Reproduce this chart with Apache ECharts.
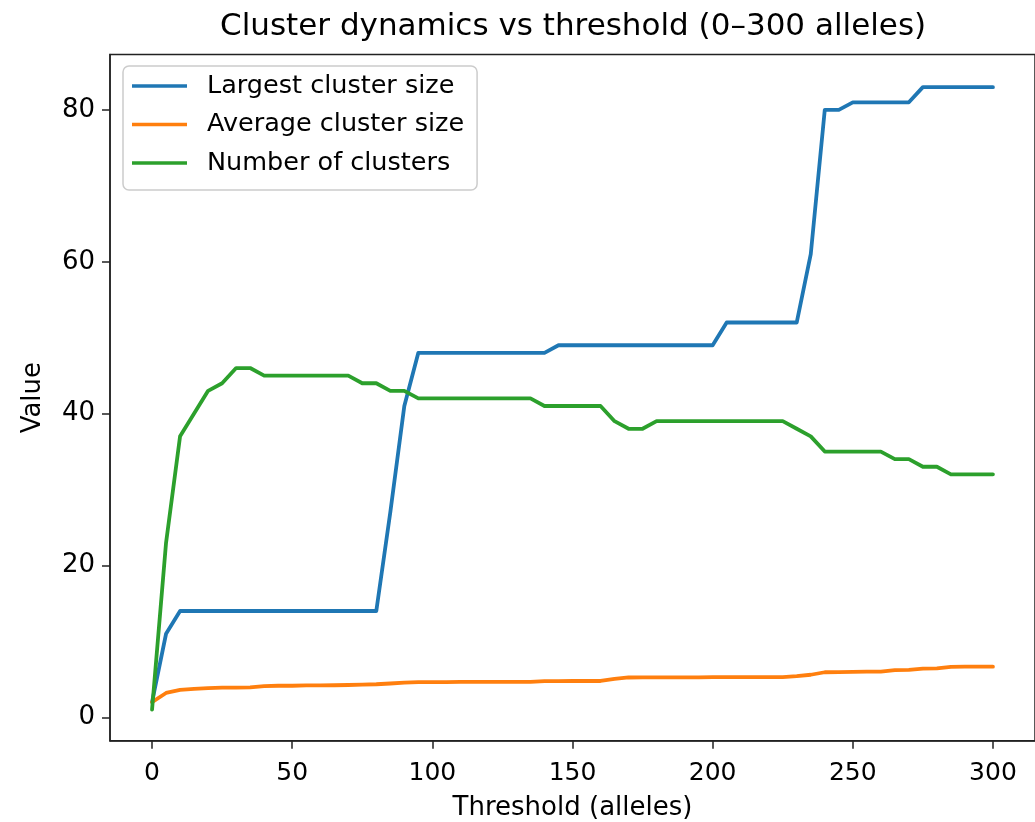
<!DOCTYPE html>
<html>
<head>
<meta charset="utf-8">
<script src="https://cdn.jsdelivr.net/npm/echarts@6/dist/echarts.min.js"></script>
<style>
  html, body { margin: 0; padding: 0; background: #fff; }
  #chart { width: 1035px; height: 822px; }
</style>
</head>
<body>
<div id="chart"></div>
<script>
// Thresholds (alleles), step 5 from 0 to 300
const thresholds = [0,5,10,15,20,25,30,35,40,45,50,55,60,65,70,75,80,85,90,95,100,105,110,115,120,125,130,135,140,145,150,155,160,165,170,175,180,185,190,195,200,205,210,215,220,225,230,235,240,245,250,255,260,265,270,275,280,285,290,295,300];

const largestCluster = [2,11,14,14,14,14,14,14,14,14,14,14,14,14,14,14,14,27,41,48,48,48,48,48,48,48,48,48,48,49,49,49,49,49,49,49,49,49,49,49,49,52,52,52,52,52,52,61,80,80,81,81,81,81,81,83,83,83,83,83,83];

const averageCluster = [2.0,3.2,3.6,3.75,3.85,3.9,3.9,3.95,4.1,4.15,4.15,4.2,4.2,4.22,4.25,4.3,4.35,4.45,4.55,4.62,4.64,4.64,4.65,4.65,4.66,4.67,4.67,4.67,4.76,4.76,4.78,4.78,4.78,5.05,5.24,5.26,5.26,5.26,5.26,5.26,5.28,5.28,5.3,5.3,5.3,5.3,5.42,5.6,5.93,5.95,5.97,6.0,6.0,6.2,6.23,6.42,6.45,6.65,6.67,6.67,6.67];

const numClusters = [1,23,37,40,43,44,46,46,45,45,45,45,45,45,45,44,44,43,43,42,42,42,42,42,42,42,42,42,41,41,41,41,41,39,38,38,39,39,39,39,39,39,39,39,39,39,38,37,35,35,35,35,35,34,34,33,33,32,32,32,32];

const xTicks = [0,50,100,150,200,250,300];
const yTicks = [0,20,40,60,80];

const seriesNames = ['Largest cluster size','Average cluster size','Number of clusters'];
const seriesColors = ['#1f77b4','#ff7f0e','#2ca02c'];
const titleText = 'Cluster dynamics vs threshold (0–300 alleles)';
const xName = 'Threshold (alleles)';
const yName = 'Value';

const FONT = 'DejaVu Sans';
const pairs = arr => thresholds.map((t, i) => [t, arr[i]]);
const allSeries = [largestCluster, averageCluster, numClusters];

const chart = echarts.init(document.getElementById('chart'), null, { renderer: 'canvas' });
chart.setOption({
  backgroundColor: '#ffffff',
  animation: false,
  title: {
    text: titleText,
    left: 220,
    top: 11,
    padding: 0,
    textStyle: { fontFamily: FONT, fontSize: 31, fontWeight: 'normal', color: '#000' }
  },
  legend: {
    orient: 'vertical',
    left: 123,
    top: 66,
    padding: [7, 13, 14, 9],
    icon: 'rect',
    itemWidth: 55,
    itemHeight: 3.5,
    itemGap: 12.5,
    backgroundColor: 'rgba(255,255,255,0.8)',
    borderColor: '#cccccc',
    borderWidth: 1.5,
    borderRadius: 6,
    textStyle: { fontFamily: FONT, fontSize: 25.5, color: '#000', lineHeight: 26, padding: [0, 0, 0, 15] },
    data: seriesNames
  },
  grid: {
    left: 110,
    top: 54.5,
    width: 925,
    height: 686.3,
    outerBoundsMode: 'none',
    containLabel: false,
    show: true,
    borderColor: '#222',
    borderWidth: 1.5,
    backgroundColor: 'transparent'
  },
  xAxis: {
    type: 'value',
    min: -15,
    max: 315,
    name: xName,
    nameLocation: 'middle',
    nameGap: 54,
    nameTextStyle: { fontFamily: FONT, fontSize: 26, color: '#000' },
    axisLine: { show: true, onZero: false, lineStyle: { color: '#222', width: 1.5 } },
    axisTick: { show: true, length: 8, customValues: xTicks, lineStyle: { color: '#222', width: 1.5 } },
    axisLabel: { customValues: xTicks, margin: 20, fontFamily: FONT, fontSize: 25, color: '#000' },
    splitLine: { show: false }
  },
  yAxis: {
    type: 'value',
    min: -3.1,
    max: 87.3,
    name: yName,
    nameLocation: 'middle',
    nameGap: 64,
    nameRotate: 90,
    nameTextStyle: { fontFamily: FONT, fontSize: 26, color: '#000' },
    axisLine: { show: true, onZero: false, lineStyle: { color: '#222', width: 1.5 } },
    axisTick: { show: true, length: 8, customValues: yTicks, lineStyle: { color: '#222', width: 1.5 } },
    axisLabel: { customValues: yTicks, margin: 15, fontFamily: FONT, fontSize: 26, color: '#000' },
    splitLine: { show: false }
  },
  series: seriesNames.map((name, i) => ({
    name: name,
    type: 'line',
    data: pairs(allSeries[i]),
    symbol: 'none',
    showSymbol: false,
    color: seriesColors[i],
    lineStyle: { color: seriesColors[i], width: 3.8, join: 'round', cap: 'round' },
    emphasis: { disabled: true }
  }))
});
</script>
</body>
</html>
